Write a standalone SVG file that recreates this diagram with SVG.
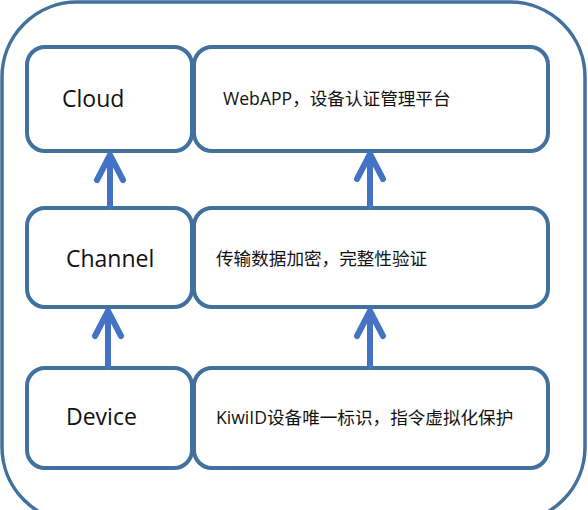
<svg xmlns="http://www.w3.org/2000/svg" width="588" height="510" viewBox="0 0 588 510">
<style>
.outer{fill:#fff;stroke:#41719c;stroke-width:3.5}
.box{fill:#fff;stroke:#41719c;stroke-width:4}
.lbl{font-family:"Open Sans","Liberation Sans",sans-serif;font-size:23px;fill:#111}
.desc{font-family:"Open Sans","Noto Sans CJK SC",sans-serif;font-size:17.6px;fill:#111}
.arr{fill:none;stroke:#4472c4;stroke-width:6;stroke-linecap:round;stroke-linejoin:round}
</style>
<rect width="588" height="510" fill="#fff"/>
<rect class="outer" x="2" y="2" width="583" height="520" rx="75" ry="75"/>
<g id="cloud"><rect class="box" x="27" y="47" width="165" height="104" rx="18"/><text class="lbl" x="62" y="107">Cloud</text></g>
<g id="cloud-desc"><rect class="box" x="194" y="47" width="354" height="104" rx="18"/><text class="desc" x="223" y="105">WebAPP，设备认证管理平台</text></g>
<g id="channel"><rect class="box" x="27" y="208" width="165" height="99" rx="18"/><text class="lbl" x="66" y="267">Channel</text></g>
<g id="channel-desc"><rect class="box" x="194" y="208" width="354" height="99" rx="18"/><text class="desc" x="216" y="265">传输数据加密，完整性验证</text></g>
<g id="device"><rect class="box" x="27" y="368" width="165" height="100" rx="18"/><text class="lbl" x="66" y="425">Device</text></g>
<g id="device-desc"><rect class="box" x="194" y="368" width="354" height="100" rx="18"/><text class="desc" x="216" y="424">KiwiID设备唯一标识，指令虚拟化保护</text></g>
<g id="connectors">
<path class="arr" d="M110 207 V155 M97 180 L110 155 L123 180"/>
<path class="arr" d="M370 207 V154 M357 179 L370 154 L383 179"/>
<path class="arr" d="M108 367 V311 M95 336 L108 311 L121 336"/>
<path class="arr" d="M370 367 V311 M357 336 L370 311 L383 336"/>
</g>
</svg>
